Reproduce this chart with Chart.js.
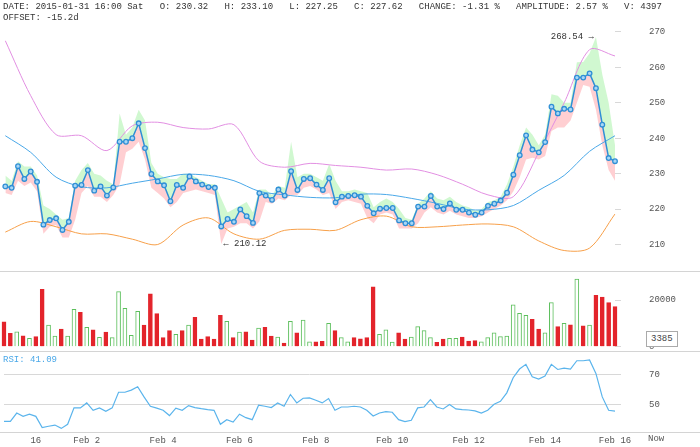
<!DOCTYPE html>
<html>
<head>
<meta charset="utf-8">
<script src="https://cdn.jsdelivr.net/npm/chart.js@4"></script>
<style>
  body { margin: 0; width: 700px; height: 447px; background: #fff; overflow: hidden; position: relative; font-family: "Liberation Mono", monospace; }
  .pane { position: absolute; left: 0; width: 700px; }
  .sep { position: absolute; left: 0; width: 700px; height: 1px; background: #d4d4d4; }
  #header { position: absolute; left: 3px; top: 2px; font-size: 9px; line-height: 11px; color: #333; white-space: pre; }
  #rsiLabel { position: absolute; left: 3px; top: 355px; font-size: 9px; color: #4aa8e8; }
  #volTag { position: absolute; left: 646px; top: 331px; font-size: 9px; color: #444; border: 1px solid #aaa; padding: 2px 4px; background: #fff; }
  #now { position: absolute; left: 648px; top: 434px; font-size: 9px; color: #555; }
</style>
</head>
<body>
<div class="pane" style="top:0;height:270px"><canvas id="main"></canvas></div>
<div class="sep" style="top:271px"></div>
<div class="pane" style="top:272px;height:78px"><canvas id="vol"></canvas></div>
<div class="sep" style="top:351px"></div>
<div class="pane" style="top:352px;height:95px"><canvas id="rsi"></canvas></div>
<div class="sep" style="top:432px"></div>
<div id="header">DATE: 2015-01-31 16:00 Sat   O: 230.32   H: 233.10   L: 227.25   C: 227.62   CHANGE: -1.31 %   AMPLITUDE: 2.57 %   V: 4397
OFFSET: -15.2d</div>
<div id="rsiLabel">RSI: 41.09</div>
<div id="volTag">3385</div>
<div id="now">Now</div>
<script>
const closes = [226.4,226.0,232.1,228.5,230.6,227.7,215.6,216.9,217.4,214.1,216.4,226.6,226.8,231.0,225.2,226.4,223.8,226.1,239.0,239.0,240.0,244.2,237.2,229.9,227.8,226.7,222.2,226.8,226.0,229.2,227.8,226.9,226.2,226.0,215.1,217.2,216.4,219.9,218.0,216.1,224.5,223.8,222.6,225.5,223.8,230.7,225.4,228.5,228.7,226.9,225.4,228.7,221.9,223.5,223.7,
  223.9,223.5,220.9,218.8,220.1,220.3,220.3,216.8,216.0,216.0,220.7,220.7,223.7,220.7,220.0,221.6,219.8,219.8,219.0,218.4,219.0,220.9,221.5,222.4,224.6,229.7,235.2,240.8,236.8,236.0,238.9,248.9,247.0,248.3,248.1,257.1,257.1,258.3,254.1,243.8,234.4,233.5];
const highs = [229.5,228,233.5,232,232,229.5,221,220,218.5,217,217.5,228,231,233,230,229.5,228,227,247,241,243,248,245,233,230,229,228.5,228.5,230,230,229,228,227,227,223,219,220,221,222,219,225.5,225.5,224,226.5,226,239,229,230,230,229,228,232.7,228,225,225,
  225.5,225,224.5,220.5,222,223,222,220,217.5,217,221.5,223,225,223,222.5,223.5,222,221,220.5,219.5,220,222,222.5,223.5,227,232,238,243,241,238,241,252.4,252,250,250,261.4,261.5,264,268.54,258,250,238];
const lows = [224.5,224,228,226.5,227.5,225,213,215,215.5,212,212,217,224.5,226.5,223.5,223.5,222,224,227,236,237,239,234,226,224.5,223,220.5,222,224.5,225,225.5,225,224.5,224,210.12,214.5,215,216,216,214.5,216.5,222,221.5,223,222.5,224,224,226,226.5,225.5,224,224.5,220,222,222.5,
  222,221.5,217.5,216,218.5,219,218.5,214.5,214.5,214.5,216,219,220.5,219,218.5,219.5,218.5,218,217.5,217.5,218,219,220,221,222.5,225,229,234,234.5,234,235,242,243,243,245,250,255,254.5,248,238,231,228];
// bollinger bands, read every 4th bar
const bandUpper = [267.5,252,241,240.7,236.5,243.5,244.5,243,242.6,243.8,233.5,231.8,232.9,232.3,231.8,231,231.3,229.7,227,224,223.5,236,250,265,263.2];
const bandMid = [240.7,236,229,226.3,226,227.3,228.5,229.8,229.5,228,225,224,223.3,223.2,224.2,224.1,223,221.6,220,219.8,221,225.3,229.5,236.3,240.7];
const bandLower = [213.5,216.5,215,213,213,211.5,210,215.5,217.5,213,211.5,214,214.3,214,217,218,215,215,215.5,215.8,215,211,208.3,209,218.6];
const volumes = [10700,5700,6400,4700,3600,4300,24600,9300,4600,7600,4600,16000,14700,8300,7200,4000,6300,3900,23600,16400,4900,15200,9300,22600,14200,3900,6900,5300,6900,9300,12600,3300,4300,3300,13400,10900,3900,6300,6400,2900,8000,8300,4600,4100,1600,10900,6000,11400,2100,2100,2300,10000,6900,3900,2100,3900,3400,3900,25700,5300,7200,2000,5900,3300,4100,8600,6900,3900,1900,3300,3600,3600,4100,2400,2600,2100,3900,5900,4300,4600,17900,14300,13400,11700,7600,5900,18900,8600,10000,9400,29000,9000,9300,22000,21300,18900,17200];
const volUp = "RRGRGRRGGRGGRGRGRGGGGGRRRRRGRGRRRRRGRGRRGRRGRGRGGRRGRGGRRRRGGGRRGGGGRRGGRRRGGGGGGGGRRGGRGRGRGRRRR".split("");
const rsi = [38.9,38.9,44.4,42.2,43.6,42.2,34.7,35.6,36.4,34.2,36.9,47.8,47.8,51.1,46.2,47.8,45.6,47.8,58.2,58.2,59.6,61.8,55.1,48.9,47.6,46.2,42.7,47.6,46.2,49.3,48.0,47.3,46.7,46.2,36.9,40.0,38.4,43.6,41.3,40.0,49.6,48.9,48.0,51.1,48.9,56.7,51.1,54.2,54.4,52.9,51.1,54.0,46.2,48.4,48.4,48.9,48.4,46.2,42.4,44.4,45.3,44.9,40.0,38.7,39.6,47.8,48.4,53.3,48.4,47.1,50.0,47.1,46.7,46.4,45.8,44.4,46.2,50.2,52.2,57.8,67.8,73.6,76.7,68.4,66.9,68.9,76.7,73.3,74.2,73.6,79.1,79.1,79.6,70.7,55.1,46.2,45.6];
const dateTicks = { 5: "16", 13: "Feb 2", 25: "Feb 4", 37: "Feb 6", 49: "Feb 8", 61: "Feb 10", 73: "Feb 12", 85: "Feb 14", 96: "Feb 16" };
const priceTicks = [210, 220, 230, 240, 250, 260, 270];

const labels = closes.map((_, i) => i);
const spread = (arr) => labels.map((i) => (i % 4 === 0 ? arr[i / 4] : null));
const FONT = { family: "Liberation Mono", size: 9 };

function rightAxis(min, max, ticks, gridOn) {
  return {
    position: "right", min, max,
    afterBuildTicks: (s) => { s.ticks = ticks.map((v) => ({ value: v })); },
    afterFit: (s) => { s.width = 85; s.paddingTop = 0; s.paddingBottom = 0; },
    border: { display: false },
    grid: { display: true, drawOnChartArea: !!gridOn, color: "#d8d8d8", tickLength: 6 },
    ticks: { color: "#555", font: FONT, padding: 28, callback: (v) => String(v) }
  };
}
const hiddenX = () => ({ display: false, offset: false });
const base = {
  responsive: true, maintainAspectRatio: false, animation: false,
  layout: { padding: { left: 4, top: 0, bottom: 0, right: 0 } },
  plugins: { legend: { display: false }, tooltip: { enabled: false } }
};

const markers = {
  id: "markers",
  afterDatasetsDraw(chart) {
    const { ctx, scales } = chart;
    let hi = 0, lo = 0;
    highs.forEach((v, i) => { if (v > highs[hi]) hi = i; });
    lows.forEach((v, i) => { if (v < lows[lo]) lo = i; });
    ctx.save();
    ctx.font = "9px Liberation Mono";
    ctx.fillStyle = "#333";
    ctx.textBaseline = "middle";
    ctx.textAlign = "right";
    ctx.fillText(highs[hi].toFixed(2) + " \u2192", scales.x.getPixelForValue(hi) - 2, scales.y.getPixelForValue(highs[hi]));
    ctx.textAlign = "left";
    ctx.fillText("\u2190 " + lows[lo].toFixed(2), scales.x.getPixelForValue(lo) + 2, scales.y.getPixelForValue(lows[lo]));
    ctx.restore();
  }
};

new Chart(document.getElementById("main"), {
  type: "line",
  data: {
    labels,
    datasets: [
      { data: closes, borderColor: "#2f8fd6", borderWidth: 1.5, tension: 0,
        pointRadius: 2.3, pointBorderWidth: 1.3, pointBorderColor: "#2f8fd6", pointBackgroundColor: "#a8d6f5", order: 0 },
      { data: highs, borderWidth: 0, pointRadius: 0, fill: { target: 0 }, backgroundColor: "rgba(150,240,150,0.45)", order: 3 },
      { data: lows, borderWidth: 0, pointRadius: 0, fill: { target: 0 }, backgroundColor: "rgba(255,160,165,0.5)", order: 3 },
      { data: spread(bandUpper), spanGaps: true, borderColor: "#e28fe2", borderWidth: 1, pointRadius: 0, tension: 0.3, order: 1 },
      { data: spread(bandMid), spanGaps: true, borderColor: "#4aa8e8", borderWidth: 1, pointRadius: 0, tension: 0.3, order: 1 },
      { data: spread(bandLower), spanGaps: true, borderColor: "#f7a04a", borderWidth: 1, pointRadius: 0, tension: 0.3, order: 1 }
    ]
  },
  options: { ...base, scales: { x: hiddenX(), y: rightAxis(204.3, 277.5, priceTicks, false) } },
  plugins: [markers]
});

new Chart(document.getElementById("vol"), {
  type: "bar",
  data: {
    labels,
    datasets: [{
      data: volumes,
      backgroundColor: volUp.map((c) => (c === "G" ? "#ffffff" : "#e3242b")),
      borderColor: volUp.map((c) => (c === "G" ? "#5cbf5c" : "#e3242b")),
      borderWidth: 1, barThickness: 4, clip: false
    }]
  },
  options: { ...base, scales: { x: hiddenX(), y: rightAxis(-1400, 32000, [0, 20000], false) } }
});

new Chart(document.getElementById("rsi"), {
  type: "line",
  data: { labels, datasets: [{ data: rsi, borderColor: "#5ab4ec", borderWidth: 1.2, pointRadius: 0, tension: 0 }] },
  options: {
    ...base,
    scales: {
      x: {
        offset: false,
        afterFit: (s) => { s.height = 15; s.paddingLeft = 0; s.paddingRight = 0; },
        grid: { display: false },
        border: { display: false },
        ticks: { autoSkip: false, maxRotation: 0, padding: -5, color: "#555", font: FONT,
          callback: (v) => dateTicks[v] || "" }
      },
      y: rightAxis(31.8, 84.9, [50, 70], true)
    }
  }
});
</script>
</body>
</html>
